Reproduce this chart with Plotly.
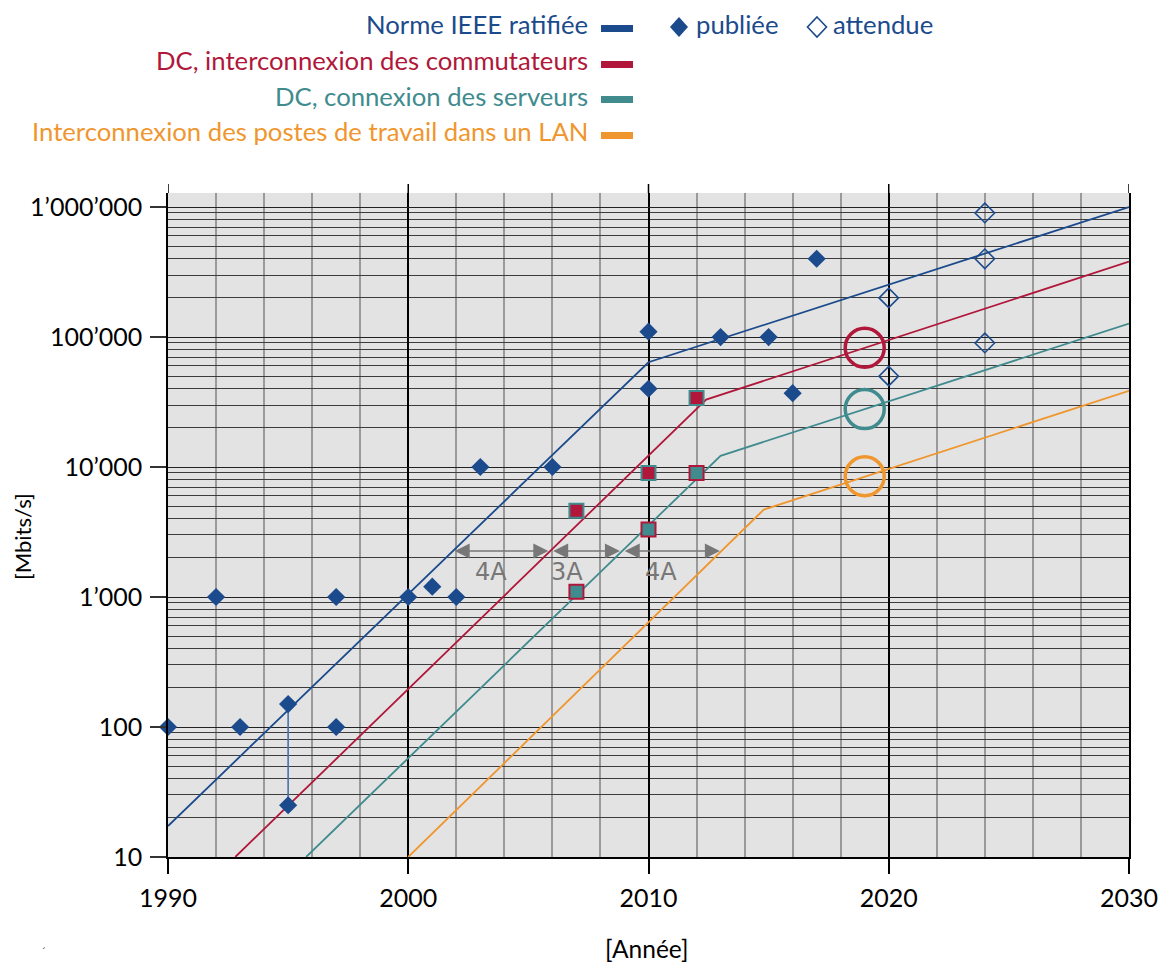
import plotly.graph_objects as go
import numpy as np

# ---------------- data ----------------
blue_years = [1990, 2010, 2030]
blue_vals = [17.3, 64000, 1000000]
red_years = [1992.8, 2012.4, 2030]
red_vals = [10, 33000, 380000]
teal_years = [1995.75, 2013, 2030]
teal_vals = [10, 12200, 127000]
orange_years = [2000, 2014.8, 2030]
orange_vals = [10, 4700, 38600]

pub_years = [1990, 1992, 1993, 1995, 1995, 1997, 1997, 2000, 2001, 2002, 2003, 2006,
             2010, 2010, 2013, 2015, 2016, 2017]
pub_vals = [100, 1000, 100, 150, 25, 1000, 100, 1000, 1200, 1000, 10000, 10000,
            110000, 40000, 100000, 100000, 37000, 400000]

exp_years = [2020, 2020, 2024, 2024, 2024]
exp_vals = [200000, 50000, 900000, 400000, 90000]

redsq_years = [2007, 2010, 2012]
redsq_vals = [4600, 9000, 34000]
tealsq_years = [2007, 2010, 2012]
tealsq_vals = [1100, 3300, 9000]

circle_year = 2019
circle_vals = [82800, 27900, 8500]

link_years = [1995, 1995]
link_vals = [25, 150]

arrow_val = 2260
arrow_spans = [(2001.87, 2005.83), (2005.97, 2008.81), (2008.95, 2012.97)]
arrow_labels = ["4A", "3A", "4A"]
arrow_label_years = [2003.45, 2006.6, 2010.5]
arrow_label_val = 1560

y_tickvals = [10, 100, 1000, 10000, 100000, 1000000]
y_ticktext = ["10", "100", "1\u2019000", "10\u2019000", "100\u2019000", "1\u2019000\u2019000"]
x_tickvals = [1990, 2000, 2010, 2020, 2030]

legend_labels = ["Norme IEEE ratifi\u00e9e", "DC, interconnexion des commutateurs",
                 "DC, connexion des serveurs",
                 "Interconnexion des postes de travail dans un LAN"]

# ---------------- style ----------------
BLUE = "#1b4b8c"
RED = "#b0173a"
TEAL = "#408b8e"
ORANGE = "#f0962e"
GRAY = "#777777"
FONT = "Lato"

W, H = 1159, 962
# plot area in page pixel coordinates
L, R, T, B = 168, 1129, 193, 857


def px(xp):
    return (xp - L) / (R - L)


def py(yp):
    return (B - yp) / (B - T)


fig = go.Figure()

# trend lines
for yrs, vals, col in [(blue_years, blue_vals, BLUE), (red_years, red_vals, RED),
                       (teal_years, teal_vals, TEAL), (orange_years, orange_vals, ORANGE)]:
    fig.add_trace(go.Scatter(x=yrs, y=vals, mode="lines", line=dict(color=col, width=1.8),
                             hoverinfo="skip", showlegend=False))

# 1995 connector
fig.add_trace(go.Scatter(x=link_years, y=link_vals, mode="lines",
                         line=dict(color="#4a72aa", width=1.6), showlegend=False))

# circles
for v, col in zip(circle_vals, [RED, TEAL, ORANGE]):
    fig.add_trace(go.Scatter(x=[circle_year], y=[v], mode="markers",
                             marker=dict(symbol="circle-open", size=39, color=col,
                                         line=dict(width=3.5, color=col)),
                             showlegend=False))

# squares
fig.add_trace(go.Scatter(x=redsq_years, y=redsq_vals, mode="markers",
                         marker=dict(symbol="square", size=14, color=RED,
                                     line=dict(width=2, color=TEAL)), showlegend=False))
fig.add_trace(go.Scatter(x=tealsq_years, y=tealsq_vals, mode="markers",
                         marker=dict(symbol="square", size=14, color=TEAL,
                                     line=dict(width=2, color=RED)), showlegend=False))

# diamonds
fig.add_trace(go.Scatter(x=pub_years, y=pub_vals, mode="markers",
                         marker=dict(symbol="diamond", size=14, color=BLUE, line=dict(width=0)),
                         showlegend=False, cliponaxis=False))
fig.add_trace(go.Scatter(x=exp_years, y=exp_vals, mode="markers",
                         marker=dict(symbol="diamond-open", size=15, color=BLUE,
                                     line=dict(width=1.6, color=BLUE)),
                         showlegend=False))

annotations = []
shapes = []

# arrows
for (a0, a1) in arrow_spans:
    annotations.append(dict(x=a1, y=np.log10(arrow_val), ax=a0, ay=np.log10(arrow_val),
                            xref="x", yref="y", axref="x", ayref="y", text="",
                            showarrow=True, arrowhead=2, arrowside="end+start",
                            arrowsize=2, arrowwidth=1.5, arrowcolor=GRAY,
                            standoff=0, startstandoff=0))
for lab, yr in zip(arrow_labels, arrow_label_years):
    annotations.append(dict(x=yr, y=np.log10(arrow_label_val), xref="x", yref="y", text=lab,
                            showarrow=False, xanchor="center", yanchor="middle",
                            font=dict(family="DejaVu Sans", size=24, color=GRAY)))

# legend
legend_cols = [BLUE, RED, TEAL, ORANGE]
legend_text_y = [24, 60, 96, 131]
legend_bar_y = [25, 61, 96, 132]
for lab, col, ty, by in zip(legend_labels, legend_cols, legend_text_y, legend_bar_y):
    annotations.append(dict(x=px(590), y=py(ty), xref="paper", yref="paper", text=lab,
                            xanchor="right", yanchor="middle", showarrow=False,
                            font=dict(family=FONT, size=25.7, color=col)))
    shapes.append(dict(type="rect", xref="paper", yref="paper", x0=px(601), x1=px(633),
                       y0=py(by + 7), y1=py(by), fillcolor=col, line=dict(width=0)))

annotations.append(dict(x=px(694), y=py(24), xref="paper", yref="paper", text="publi\u00e9e",
                        xanchor="left", yanchor="middle", showarrow=False,
                        font=dict(family=FONT, size=25.7, color=BLUE)))
annotations.append(dict(x=px(831), y=py(24), xref="paper", yref="paper", text="attendue",
                        xanchor="left", yanchor="middle", showarrow=False,
                        font=dict(family=FONT, size=25.7, color=BLUE)))


def diamond_path(cx, cy, hw, hh):
    return (f"M {px(cx)} {py(cy - hh)} L {px(cx + hw)} {py(cy)} "
            f"L {px(cx)} {py(cy + hh)} L {px(cx - hw)} {py(cy)} Z")


shapes.append(dict(type="path", xref="paper", yref="paper", path=diamond_path(679, 27, 9, 10),
                   fillcolor=BLUE, line=dict(width=0)))
shapes.append(dict(type="path", xref="paper", yref="paper", path=diamond_path(817, 27, 9.5, 10),
                   fillcolor="rgba(0,0,0,0)", line=dict(width=1.6, color=BLUE)))

# axis line extensions above plot
for xv in x_tickvals:
    shapes.append(dict(type="line", xref="x", yref="paper", x0=xv, x1=xv, y0=1, y1=py(184),
                       line=dict(color="black", width=1.5)))

# axis titles
annotations.append(dict(x=px(647), y=py(948), xref="paper", yref="paper", text="[Ann\u00e9e]",
                        xanchor="center", yanchor="middle",
                        showarrow=False, font=dict(family=FONT, size=24.5, color="black")))
annotations.append(dict(x=px(22), y=py(537), xref="paper", yref="paper", text="[Mbits/s]",
                        textangle=-90, showarrow=False, xanchor="center", yanchor="middle",
                        font=dict(family=FONT, size=22, color="black")))
# small glyph fragment at lower left of reference
annotations.append(dict(x=px(43), y=py(961), xref="paper", yref="paper", text="\u00b4",
                        xanchor="center", yanchor="bottom", showarrow=False,
                        font=dict(family=FONT, size=12, color="#444444")))

minor_y = [m * 10 ** e for e in range(1, 7) for m in range(2, 10)]

fig.update_layout(
    width=W, height=H,
    margin=dict(l=L, r=W - R, t=T, b=H - B, pad=0),
    paper_bgcolor="white", plot_bgcolor="#e3e3e3",
    showlegend=False,
    font=dict(family=FONT, size=22, color="black"),
    annotations=annotations, shapes=shapes,
    xaxis=dict(range=[1990, 2030], tickmode="array", tickvals=x_tickvals,
               ticktext=[str(v) for v in x_tickvals],
               showgrid=True, gridcolor="black", gridwidth=1.5,
               ticks="outside", ticklen=15, tickwidth=1.5, tickcolor="black",
               ticklabelstandoff=3,
               showline=True, linecolor="black", linewidth=1.5, mirror=False,
               zeroline=False, automargin=False,
               tickfont=dict(family=FONT, size=25, color="black"),
               minor=dict(tickmode="linear", tick0=1990, dtick=2, showgrid=True,
                          gridcolor="#9a9a9a", gridwidth=1.5, ticks="")),
    yaxis=dict(type="log", range=[1, 6.108], tickmode="array", tickvals=y_tickvals,
               ticktext=y_ticktext,
               showgrid=True, gridcolor="#222222", gridwidth=1.3,
               ticks="outside", ticklen=16, tickwidth=1.5, tickcolor="#333333",
               ticklabelstandoff=3,
               showline=True, linecolor="black", linewidth=1.5, mirror=True,
               zeroline=False, automargin=False,
               tickfont=dict(family=FONT, size=25, color="black"),
               minor=dict(tickmode="array", tickvals=minor_y, showgrid=True,
                          gridcolor="#3c3c3c", gridwidth=1.1, ticks="")),
)

fig.write_html("out.html", config={"displayModeBar": False},
               post_script="document.body.style.margin='0';"
                           "document.documentElement.style.overflow='hidden';"
                           "document.body.style.overflow='hidden';")
